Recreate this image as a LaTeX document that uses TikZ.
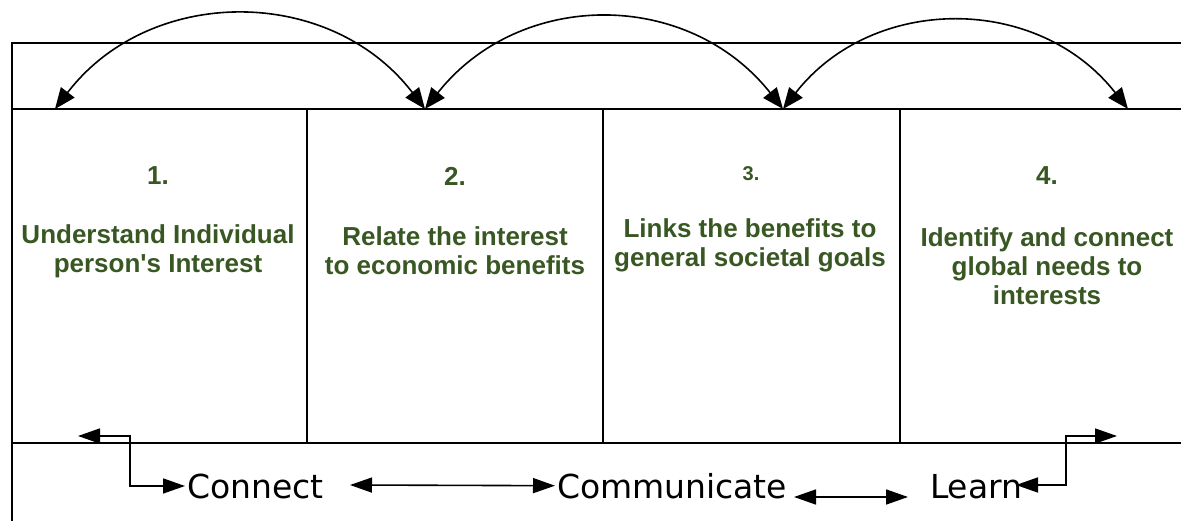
\documentclass[tikz,border=0pt]{standalone}
\usepackage{fontspec}
\setmainfont{Liberation Sans}[Ligatures=TeXOff]
\newfontfamily\labelfont{DejaVu Sans}
\usetikzlibrary{arrows.meta}
\definecolor{txtgreen}{RGB}{56,87,35}
\begin{document}
\begin{tikzpicture}[x=1pt,y=-1pt,line width=1.6pt,
  toparrow/.style={{Triangle[length=21pt,width=17pt]}-{Triangle[length=21pt,width=17pt]}},
  botarrow/.style={{Triangle[length=22pt,width=15pt]}-{Triangle[length=22pt,width=15pt]}},
  steptext/.style={text=txtgreen,align=center,font=\fontsize{26}{29}\selectfont\bfseries,inner sep=0pt},
  stepnum/.style={text=txtgreen,font=\fontsize{26}{29}\selectfont\bfseries,inner sep=0pt},
  lbl/.style={font=\labelfont\fontsize{33}{38}\selectfont,inner sep=0pt,outer sep=2pt}]
\useasboundingbox (0,0) rectangle (1181,521);
% frame
\draw (12,521) -- (12,43) -- (1181,43);
\draw (12,109) -- (1181,109);
\draw (12,443) -- (1181,443);
\draw (307,109) -- (307,443);
\draw (603,109) -- (603,443);
\draw (900,109) -- (900,443);
% step texts
\node[stepnum] (n1) at (158,176) {1.};
\node[stepnum] (n2) at (455,176) {2.};
\node[stepnum,font=\fontsize{20}{23}\selectfont\bfseries] (n3) at (751,174) {3.};
\node[stepnum] (n4) at (1047,176) {4.};
\node[steptext] (t1) at (158,251) {Understand Individual\\person's Interest};
\node[steptext] (t2) at (455,251) {Relate the interest\\to economic benefits};
\node[steptext] (t3) at (750,245) {Links the benefits to\\general societal goals};
\node[steptext] (t4) at (1047,266) {Identify and connect\\global needs to\\interests};
% top arcs
\coordinate (a1) at (55,109);
\coordinate (a2) at (425,109);
\coordinate (a3) at (783,109);
\coordinate (a4) at (1128,109);
\draw[toparrow] (a1) .. controls (150,-15) and (330,-15) .. (a2);
\draw[toparrow] (a2) .. controls (520,-11) and (688,-11) .. (a3);
\draw[toparrow] (a3) .. controls (873,-6) and (1038,-6) .. (a4);
% bottom labels
\node[lbl,anchor=base west] (con) at (185,498) {Connect};
\node[lbl,anchor=base west] (com) at (555,498) {Communicate};
\node[lbl,anchor=base west] (lrn) at (928,498) {Learn};
\coordinate (l1) at (78,436);
\coordinate (l4) at (1117,436);
\coordinate (cc) at (350,485);
\coordinate (cl1) at (794,497);
\coordinate (cl2) at (908,497);
\coordinate (lr) at (1016,485);
\draw[botarrow] (l1) -- (130,436) |- (con.west);
\draw[botarrow] (cc) -- (com.west);
\draw[botarrow] (cl1) -- (cl2);
\draw[botarrow] (lr) -- (1066,485) |- (l4);
\end{tikzpicture}
\end{document}
